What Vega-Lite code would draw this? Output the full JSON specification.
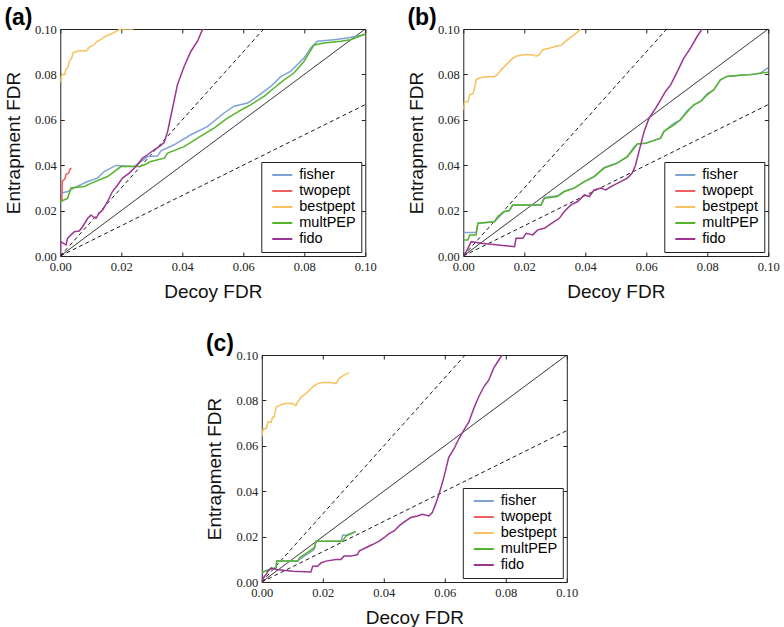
{
"$schema": "https://vega.github.io/schema/vega-lite/v6.json",
"background": "white",
"padding": {"left": 3, "top": 6, "right": 0, "bottom": 0},
"datasets": {
"ref": [
{"kind":"diag","x":0,"y":0},{"kind":"diag","x":0.1,"y":0.1},
{"kind":"hi","x":0,"y":0},{"kind":"hi","x":0.0667,"y":0.1},
{"kind":"lo","x":0,"y":0},{"kind":"lo","x":0.1,"y":0.0667}
],
"a": [
{"method":"fisher","x":0,"y":0.0276},{"method":"fisher","x":0.0025,"y":0.0284},{"method":"fisher","x":0.0046,"y":0.0301},{"method":"fisher","x":0.009,"y":0.0328},{"method":"fisher","x":0.0122,"y":0.0343},{"method":"fisher","x":0.0144,"y":0.0372},{"method":"fisher","x":0.0182,"y":0.0399},{"method":"fisher","x":0.0242,"y":0.0394},{"method":"fisher","x":0.0259,"y":0.041},{"method":"fisher","x":0.0286,"y":0.0438},{"method":"fisher","x":0.0319,"y":0.044},{"method":"fisher","x":0.033,"y":0.0463},{"method":"fisher","x":0.0373,"y":0.049},{"method":"fisher","x":0.0428,"y":0.0534},{"method":"fisher","x":0.0482,"y":0.057},{"method":"fisher","x":0.0537,"y":0.063},{"method":"fisher","x":0.057,"y":0.066},{"method":"fisher","x":0.0614,"y":0.0674},{"method":"fisher","x":0.0646,"y":0.0703},{"method":"fisher","x":0.069,"y":0.0747},{"method":"fisher","x":0.0723,"y":0.079},{"method":"fisher","x":0.0755,"y":0.0813},{"method":"fisher","x":0.0799,"y":0.0872},{"method":"fisher","x":0.0821,"y":0.0916},{"method":"fisher","x":0.0843,"y":0.0946},{"method":"fisher","x":0.0897,"y":0.0953},{"method":"fisher","x":0.0941,"y":0.096},{"method":"fisher","x":0.0996,"y":0.0975},
{"method":"twopept","x":0,"y":0.0245},{"method":"twopept","x":0.0005,"y":0.0245},{"method":"twopept","x":0.0007,"y":0.033},{"method":"twopept","x":0.0015,"y":0.034},{"method":"twopept","x":0.0019,"y":0.036},{"method":"twopept","x":0.0027,"y":0.0365},{"method":"twopept","x":0.0033,"y":0.0385},{"method":"twopept","x":0.0037,"y":0.0385},
{"method":"bestpept","x":0,"y":0.0765},{"method":"bestpept","x":0.0003,"y":0.079},{"method":"bestpept","x":0.0006,"y":0.08},{"method":"bestpept","x":0.0015,"y":0.08},{"method":"bestpept","x":0.0018,"y":0.082},{"method":"bestpept","x":0.0025,"y":0.083},{"method":"bestpept","x":0.003,"y":0.086},{"method":"bestpept","x":0.0037,"y":0.087},{"method":"bestpept","x":0.0042,"y":0.0895},{"method":"bestpept","x":0.005,"y":0.09},{"method":"bestpept","x":0.0065,"y":0.0905},{"method":"bestpept","x":0.0085,"y":0.0903},{"method":"bestpept","x":0.0095,"y":0.092},{"method":"bestpept","x":0.011,"y":0.093},{"method":"bestpept","x":0.012,"y":0.0945},{"method":"bestpept","x":0.0135,"y":0.0955},{"method":"bestpept","x":0.015,"y":0.097},{"method":"bestpept","x":0.017,"y":0.098},{"method":"bestpept","x":0.019,"y":0.0995},{"method":"bestpept","x":0.02,"y":0.1},{"method":"bestpept","x":0.024,"y":0.1},
{"method":"multPEP","x":0,"y":0.024},{"method":"multPEP","x":0.0024,"y":0.0254},{"method":"multPEP","x":0.0035,"y":0.03},{"method":"multPEP","x":0.0079,"y":0.0306},{"method":"multPEP","x":0.01,"y":0.032},{"method":"multPEP","x":0.0155,"y":0.035},{"method":"multPEP","x":0.0199,"y":0.0394},{"method":"multPEP","x":0.0259,"y":0.0394},{"method":"multPEP","x":0.0275,"y":0.0401},{"method":"multPEP","x":0.0297,"y":0.0416},{"method":"multPEP","x":0.0341,"y":0.0431},{"method":"multPEP","x":0.0352,"y":0.0453},{"method":"multPEP","x":0.0406,"y":0.0482},{"method":"multPEP","x":0.045,"y":0.0519},{"method":"multPEP","x":0.0504,"y":0.0563},{"method":"multPEP","x":0.0548,"y":0.0607},{"method":"multPEP","x":0.0603,"y":0.0651},{"method":"multPEP","x":0.0624,"y":0.0666},{"method":"multPEP","x":0.0668,"y":0.0703},{"method":"multPEP","x":0.0701,"y":0.074},{"method":"multPEP","x":0.0734,"y":0.0776},{"method":"multPEP","x":0.0766,"y":0.0806},{"method":"multPEP","x":0.0799,"y":0.0857},{"method":"multPEP","x":0.0832,"y":0.093},{"method":"multPEP","x":0.0865,"y":0.0938},{"method":"multPEP","x":0.0919,"y":0.0946},{"method":"multPEP","x":0.0952,"y":0.0953},{"method":"multPEP","x":0.1,"y":0.0978},
{"method":"fido","x":0,"y":0},{"method":"fido","x":0.0001,"y":0.0063},{"method":"fido","x":0.0019,"y":0.0049},{"method":"fido","x":0.0024,"y":0.0078},{"method":"fido","x":0.0035,"y":0.0093},{"method":"fido","x":0.0046,"y":0.0107},{"method":"fido","x":0.0062,"y":0.011},{"method":"fido","x":0.0073,"y":0.0129},{"method":"fido","x":0.009,"y":0.0166},{"method":"fido","x":0.01,"y":0.018},{"method":"fido","x":0.0117,"y":0.0166},{"method":"fido","x":0.0128,"y":0.019},{"method":"fido","x":0.0139,"y":0.0203},{"method":"fido","x":0.0155,"y":0.024},{"method":"fido","x":0.0171,"y":0.0284},{"method":"fido","x":0.0188,"y":0.0313},{"method":"fido","x":0.0204,"y":0.0343},{"method":"fido","x":0.0226,"y":0.0365},{"method":"fido","x":0.0248,"y":0.0394},{"method":"fido","x":0.027,"y":0.0431},{"method":"fido","x":0.0286,"y":0.0446},{"method":"fido","x":0.0308,"y":0.0468},{"method":"fido","x":0.033,"y":0.0487},{"method":"fido","x":0.0341,"y":0.0501},{"method":"fido","x":0.0352,"y":0.0549},{"method":"fido","x":0.0368,"y":0.0651},{"method":"fido","x":0.0384,"y":0.0754},{"method":"fido","x":0.0406,"y":0.0835},{"method":"fido","x":0.0428,"y":0.0901},{"method":"fido","x":0.045,"y":0.0946},{"method":"fido","x":0.0466,"y":0.0997},{"method":"fido","x":0.0472,"y":0.1}
],
"b": [
{"method":"fisher","x":0,"y":0.0104},{"method":"fisher","x":0.0042,"y":0.0104},{"method":"fisher","x":0.0048,"y":0.0144},{"method":"fisher","x":0.0102,"y":0.0151},{"method":"fisher","x":0.0113,"y":0.0166},{"method":"fisher","x":0.0135,"y":0.0196},{"method":"fisher","x":0.0151,"y":0.02},{"method":"fisher","x":0.0162,"y":0.0225},{"method":"fisher","x":0.0255,"y":0.0225},{"method":"fisher","x":0.0266,"y":0.0258},{"method":"fisher","x":0.0309,"y":0.0265},{"method":"fisher","x":0.0331,"y":0.0284},{"method":"fisher","x":0.0364,"y":0.03},{"method":"fisher","x":0.0397,"y":0.0328},{"method":"fisher","x":0.0429,"y":0.035},{"method":"fisher","x":0.0462,"y":0.039},{"method":"fisher","x":0.0505,"y":0.041},{"method":"fisher","x":0.0538,"y":0.0438},{"method":"fisher","x":0.056,"y":0.048},{"method":"fisher","x":0.0571,"y":0.0494},{"method":"fisher","x":0.0598,"y":0.0497},{"method":"fisher","x":0.0614,"y":0.0504},{"method":"fisher","x":0.0647,"y":0.0519},{"method":"fisher","x":0.0658,"y":0.0549},{"method":"fisher","x":0.0691,"y":0.0585},{"method":"fisher","x":0.0712,"y":0.06},{"method":"fisher","x":0.0734,"y":0.064},{"method":"fisher","x":0.0756,"y":0.0666},{"method":"fisher","x":0.0778,"y":0.0681},{"method":"fisher","x":0.08,"y":0.0715},{"method":"fisher","x":0.0821,"y":0.0732},{"method":"fisher","x":0.0843,"y":0.0776},{"method":"fisher","x":0.0865,"y":0.0791},{"method":"fisher","x":0.0908,"y":0.0796},{"method":"fisher","x":0.0941,"y":0.0799},{"method":"fisher","x":0.0974,"y":0.0805},{"method":"fisher","x":0.1,"y":0.083},
{"method":"bestpept","x":0,"y":0.0644},{"method":"bestpept","x":0.0004,"y":0.068},{"method":"bestpept","x":0.0015,"y":0.068},{"method":"bestpept","x":0.0021,"y":0.071},{"method":"bestpept","x":0.0032,"y":0.0715},{"method":"bestpept","x":0.0037,"y":0.074},{"method":"bestpept","x":0.0042,"y":0.0776},{"method":"bestpept","x":0.0053,"y":0.0784},{"method":"bestpept","x":0.007,"y":0.079},{"method":"bestpept","x":0.0102,"y":0.079},{"method":"bestpept","x":0.0113,"y":0.08},{"method":"bestpept","x":0.0124,"y":0.082},{"method":"bestpept","x":0.0141,"y":0.0843},{"method":"bestpept","x":0.0157,"y":0.0865},{"method":"bestpept","x":0.0173,"y":0.088},{"method":"bestpept","x":0.0195,"y":0.0887},{"method":"bestpept","x":0.0228,"y":0.0887},{"method":"bestpept","x":0.0239,"y":0.088},{"method":"bestpept","x":0.0249,"y":0.0887},{"method":"bestpept","x":0.026,"y":0.0909},{"method":"bestpept","x":0.0282,"y":0.0915},{"method":"bestpept","x":0.0304,"y":0.0924},{"method":"bestpept","x":0.032,"y":0.0928},{"method":"bestpept","x":0.0342,"y":0.0953},{"method":"bestpept","x":0.0364,"y":0.0975},{"method":"bestpept","x":0.0386,"y":0.1},
{"method":"multPEP","x":0,"y":0.0071},{"method":"multPEP","x":0.0015,"y":0.0071},{"method":"multPEP","x":0.0021,"y":0.0093},{"method":"multPEP","x":0.0042,"y":0.0093},{"method":"multPEP","x":0.0048,"y":0.0144},{"method":"multPEP","x":0.0102,"y":0.0151},{"method":"multPEP","x":0.0113,"y":0.0174},{"method":"multPEP","x":0.0135,"y":0.0196},{"method":"multPEP","x":0.0151,"y":0.02},{"method":"multPEP","x":0.0162,"y":0.0225},{"method":"multPEP","x":0.0255,"y":0.0225},{"method":"multPEP","x":0.0266,"y":0.0254},{"method":"multPEP","x":0.0309,"y":0.0262},{"method":"multPEP","x":0.0331,"y":0.0284},{"method":"multPEP","x":0.0364,"y":0.0299},{"method":"multPEP","x":0.0397,"y":0.0328},{"method":"multPEP","x":0.0429,"y":0.035},{"method":"multPEP","x":0.0462,"y":0.0387},{"method":"multPEP","x":0.0505,"y":0.0409},{"method":"multPEP","x":0.0538,"y":0.0438},{"method":"multPEP","x":0.056,"y":0.0475},{"method":"multPEP","x":0.0571,"y":0.0494},{"method":"multPEP","x":0.0598,"y":0.0497},{"method":"multPEP","x":0.0614,"y":0.0504},{"method":"multPEP","x":0.0647,"y":0.0519},{"method":"multPEP","x":0.0658,"y":0.0549},{"method":"multPEP","x":0.0691,"y":0.0578},{"method":"multPEP","x":0.0712,"y":0.06},{"method":"multPEP","x":0.0734,"y":0.0634},{"method":"multPEP","x":0.0756,"y":0.0666},{"method":"multPEP","x":0.0778,"y":0.0681},{"method":"multPEP","x":0.08,"y":0.071},{"method":"multPEP","x":0.0821,"y":0.0732},{"method":"multPEP","x":0.0843,"y":0.0776},{"method":"multPEP","x":0.0865,"y":0.0791},{"method":"multPEP","x":0.0908,"y":0.0796},{"method":"multPEP","x":0.0941,"y":0.0799},{"method":"multPEP","x":0.0974,"y":0.0805},{"method":"multPEP","x":0.1,"y":0.081},
{"method":"fido","x":0,"y":0},{"method":"fido","x":0.001,"y":0.0019},{"method":"fido","x":0.0026,"y":0.0063},{"method":"fido","x":0.0059,"y":0.0056},{"method":"fido","x":0.0168,"y":0.0041},{"method":"fido","x":0.0173,"y":0.0078},{"method":"fido","x":0.0195,"y":0.0078},{"method":"fido","x":0.0206,"y":0.01},{"method":"fido","x":0.0228,"y":0.0093},{"method":"fido","x":0.0244,"y":0.0115},{"method":"fido","x":0.0266,"y":0.0122},{"method":"fido","x":0.0282,"y":0.0137},{"method":"fido","x":0.0298,"y":0.0151},{"method":"fido","x":0.0315,"y":0.0166},{"method":"fido","x":0.0331,"y":0.0196},{"method":"fido","x":0.0353,"y":0.0225},{"method":"fido","x":0.0375,"y":0.024},{"method":"fido","x":0.0397,"y":0.0269},{"method":"fido","x":0.0413,"y":0.0262},{"method":"fido","x":0.0429,"y":0.0291},{"method":"fido","x":0.0451,"y":0.0299},{"method":"fido","x":0.0467,"y":0.0291},{"method":"fido","x":0.0484,"y":0.0306},{"method":"fido","x":0.0516,"y":0.0328},{"method":"fido","x":0.0538,"y":0.0343},{"method":"fido","x":0.0554,"y":0.0365},{"method":"fido","x":0.0565,"y":0.0401},{"method":"fido","x":0.0576,"y":0.046},{"method":"fido","x":0.0593,"y":0.0549},{"method":"fido","x":0.0609,"y":0.0607},{"method":"fido","x":0.0631,"y":0.0651},{"method":"fido","x":0.0647,"y":0.0688},{"method":"fido","x":0.0663,"y":0.0725},{"method":"fido","x":0.068,"y":0.0754},{"method":"fido","x":0.0702,"y":0.0813},{"method":"fido","x":0.0723,"y":0.0872},{"method":"fido","x":0.0745,"y":0.0916},{"method":"fido","x":0.0767,"y":0.0968},{"method":"fido","x":0.0783,"y":0.1}
],
"c": [
{"method":"fisher","x":0,"y":0.004},{"method":"fisher","x":0.0009,"y":0.0047},{"method":"fisher","x":0.0025,"y":0.0055},{"method":"fisher","x":0.0047,"y":0.0062},{"method":"fisher","x":0.0049,"y":0.0092},{"method":"fisher","x":0.0118,"y":0.0092},{"method":"fisher","x":0.0123,"y":0.0099},{"method":"fisher","x":0.0139,"y":0.0114},{"method":"fisher","x":0.0156,"y":0.0128},{"method":"fisher","x":0.0172,"y":0.0144},{"method":"fisher","x":0.0178,"y":0.018},{"method":"fisher","x":0.026,"y":0.018},{"method":"fisher","x":0.0265,"y":0.0206},{"method":"fisher","x":0.0276,"y":0.0206},{"method":"fisher","x":0.0308,"y":0.0222},
{"method":"bestpept","x":0,"y":0.0641},{"method":"bestpept","x":0.0005,"y":0.0675},{"method":"bestpept","x":0.0014,"y":0.0675},{"method":"bestpept","x":0.002,"y":0.0705},{"method":"bestpept","x":0.0031,"y":0.0705},{"method":"bestpept","x":0.0036,"y":0.0727},{"method":"bestpept","x":0.0041,"y":0.0727},{"method":"bestpept","x":0.0047,"y":0.0771},{"method":"bestpept","x":0.0058,"y":0.0778},{"method":"bestpept","x":0.0074,"y":0.0786},{"method":"bestpept","x":0.0101,"y":0.0786},{"method":"bestpept","x":0.0112,"y":0.0778},{"method":"bestpept","x":0.0118,"y":0.0793},{"method":"bestpept","x":0.0129,"y":0.0815},{"method":"bestpept","x":0.0145,"y":0.083},{"method":"bestpept","x":0.0156,"y":0.0845},{"method":"bestpept","x":0.0167,"y":0.086},{"method":"bestpept","x":0.0183,"y":0.0874},{"method":"bestpept","x":0.0199,"y":0.0879},{"method":"bestpept","x":0.0227,"y":0.0879},{"method":"bestpept","x":0.0243,"y":0.0874},{"method":"bestpept","x":0.0254,"y":0.0897},{"method":"bestpept","x":0.027,"y":0.0911},{"method":"bestpept","x":0.0286,"y":0.0922},
{"method":"multPEP","x":0,"y":0.004},{"method":"multPEP","x":0.0009,"y":0.0047},{"method":"multPEP","x":0.0025,"y":0.0055},{"method":"multPEP","x":0.0047,"y":0.0062},{"method":"multPEP","x":0.0049,"y":0.0092},{"method":"multPEP","x":0.0118,"y":0.0092},{"method":"multPEP","x":0.0123,"y":0.0106},{"method":"multPEP","x":0.0139,"y":0.0121},{"method":"multPEP","x":0.0156,"y":0.0136},{"method":"multPEP","x":0.0172,"y":0.0151},{"method":"multPEP","x":0.0178,"y":0.018},{"method":"multPEP","x":0.0265,"y":0.018},{"method":"multPEP","x":0.0276,"y":0.0202},{"method":"multPEP","x":0.0308,"y":0.0222},
{"method":"fido","x":0,"y":0},{"method":"fido","x":0.0005,"y":0.0018},{"method":"fido","x":0.0014,"y":0.0033},{"method":"fido","x":0.002,"y":0.0047},{"method":"fido","x":0.0031,"y":0.0062},{"method":"fido","x":0.0047,"y":0.0055},{"method":"fido","x":0.0101,"y":0.0047},{"method":"fido","x":0.0161,"y":0.0044},{"method":"fido","x":0.0167,"y":0.0069},{"method":"fido","x":0.0183,"y":0.0069},{"method":"fido","x":0.0194,"y":0.0084},{"method":"fido","x":0.021,"y":0.0092},{"method":"fido","x":0.0243,"y":0.0099},{"method":"fido","x":0.0259,"y":0.0099},{"method":"fido","x":0.027,"y":0.0114},{"method":"fido","x":0.0292,"y":0.0114},{"method":"fido","x":0.0314,"y":0.0121},{"method":"fido","x":0.0319,"y":0.0136},{"method":"fido","x":0.0341,"y":0.0151},{"method":"fido","x":0.0363,"y":0.0165},{"method":"fido","x":0.0385,"y":0.018},{"method":"fido","x":0.0401,"y":0.0195},{"method":"fido","x":0.0417,"y":0.0213},{"method":"fido","x":0.0434,"y":0.0225},{"method":"fido","x":0.045,"y":0.0247},{"method":"fido","x":0.0472,"y":0.0269},{"method":"fido","x":0.0488,"y":0.0284},{"method":"fido","x":0.051,"y":0.0291},{"method":"fido","x":0.0526,"y":0.0298},{"method":"fido","x":0.0548,"y":0.0291},{"method":"fido","x":0.0559,"y":0.0306},{"method":"fido","x":0.057,"y":0.0343},{"method":"fido","x":0.0581,"y":0.0387},{"method":"fido","x":0.0597,"y":0.0461},{"method":"fido","x":0.0613,"y":0.0549},{"method":"fido","x":0.063,"y":0.0586},{"method":"fido","x":0.0646,"y":0.0631},{"method":"fido","x":0.0662,"y":0.0668},{"method":"fido","x":0.0679,"y":0.0705},{"method":"fido","x":0.0695,"y":0.0764},{"method":"fido","x":0.0711,"y":0.0815},{"method":"fido","x":0.0728,"y":0.086},{"method":"fido","x":0.0744,"y":0.0889},{"method":"fido","x":0.076,"y":0.0941},{"method":"fido","x":0.0777,"y":0.0978},{"method":"fido","x":0.0788,"y":0.1}
]
},
"vconcat": [
{"hconcat": [
{"title": {"text": "(a)"}, "width": 305, "height": 227,
 "resolve": {"axis": {"x": "independent", "y": "independent"}},
 "layer": [
  {"data": {"name": "ref"}, "mark": {"type": "line", "color": "black", "strokeWidth": 0.9, "clip": true},
   "encoding": {
    "x": {"field": "x", "type": "quantitative", "scale": {"domain": [0, 0.1], "nice": false, "zero": false}, "axis": {"orient": "top", "title": null, "labels": false, "values": [0, 0.02, 0.04, 0.06, 0.08, 0.1]}},
    "y": {"field": "y", "type": "quantitative", "scale": {"domain": [0, 0.1], "nice": false, "zero": false}, "axis": {"orient": "right", "title": null, "labels": false, "values": [0, 0.02, 0.04, 0.06, 0.08, 0.1]}},
    "detail": {"field": "kind"},
    "strokeDash": {"field": "kind", "type": "nominal", "scale": {"domain": ["diag", "hi", "lo"], "range": [[1, 0], [4, 3], [4, 3]]}, "legend": null}}},
  {"data": {"name": "a"}, "mark": {"type": "line", "strokeWidth": 1.5, "clip": true},
   "encoding": {
    "x": {"field": "x", "type": "quantitative", "axis": {"orient": "bottom", "title": "Decoy FDR", "values": [0, 0.02, 0.04, 0.06, 0.08, 0.1], "format": ".2f"}},
    "y": {"field": "y", "type": "quantitative", "axis": {"orient": "left", "title": "Entrapment FDR", "values": [0, 0.02, 0.04, 0.06, 0.08, 0.1], "format": ".2f"}},
    "color": {"field": "method", "type": "nominal", "scale": {"domain": ["fisher", "twopept", "bestpept", "multPEP", "fido"], "range": ["#7fa2d4", "#ef5f61", "#f7c25e", "#55b52a", "#9c3592"]}, "legend": {"title": null}}}}
 ]},
{"title": {"text": "(b)"}, "width": 305, "height": 227,
 "resolve": {"axis": {"x": "independent", "y": "independent"}},
 "layer": [
  {"data": {"name": "ref"}, "mark": {"type": "line", "color": "black", "strokeWidth": 0.9, "clip": true},
   "encoding": {
    "x": {"field": "x", "type": "quantitative", "scale": {"domain": [0, 0.1], "nice": false, "zero": false}, "axis": {"orient": "top", "title": null, "labels": false, "values": [0, 0.02, 0.04, 0.06, 0.08, 0.1]}},
    "y": {"field": "y", "type": "quantitative", "scale": {"domain": [0, 0.1], "nice": false, "zero": false}, "axis": {"orient": "right", "title": null, "labels": false, "values": [0, 0.02, 0.04, 0.06, 0.08, 0.1]}},
    "detail": {"field": "kind"},
    "strokeDash": {"field": "kind", "type": "nominal", "scale": {"domain": ["diag", "hi", "lo"], "range": [[1, 0], [4, 3], [4, 3]]}, "legend": null}}},
  {"data": {"name": "b"}, "mark": {"type": "line", "strokeWidth": 1.5, "clip": true},
   "encoding": {
    "x": {"field": "x", "type": "quantitative", "axis": {"orient": "bottom", "title": "Decoy FDR", "values": [0, 0.02, 0.04, 0.06, 0.08, 0.1], "format": ".2f"}},
    "y": {"field": "y", "type": "quantitative", "axis": {"orient": "left", "title": "Entrapment FDR", "values": [0, 0.02, 0.04, 0.06, 0.08, 0.1], "format": ".2f"}},
    "color": {"field": "method", "type": "nominal", "scale": {"domain": ["fisher", "twopept", "bestpept", "multPEP", "fido"], "range": ["#7fa2d4", "#ef5f61", "#f7c25e", "#55b52a", "#9c3592"]}, "legend": {"title": null}}}}
 ]}
],
"spacing": 29,
"resolve": {"scale": {"color": "independent"}, "legend": {"color": "independent"}}},
{"title": {"text": "(c)"}, "width": 305, "height": 227,
 "resolve": {"axis": {"x": "independent", "y": "independent"}},
 "layer": [
  {"data": {"name": "ref"}, "mark": {"type": "line", "color": "black", "strokeWidth": 0.9, "clip": true},
   "encoding": {
    "x": {"field": "x", "type": "quantitative", "scale": {"domain": [0, 0.1], "nice": false, "zero": false}, "axis": {"orient": "top", "title": null, "labels": false, "values": [0, 0.02, 0.04, 0.06, 0.08, 0.1]}},
    "y": {"field": "y", "type": "quantitative", "scale": {"domain": [0, 0.1], "nice": false, "zero": false}, "axis": {"orient": "right", "title": null, "labels": false, "values": [0, 0.02, 0.04, 0.06, 0.08, 0.1]}},
    "detail": {"field": "kind"},
    "strokeDash": {"field": "kind", "type": "nominal", "scale": {"domain": ["diag", "hi", "lo"], "range": [[1, 0], [4, 3], [4, 3]]}, "legend": null}}},
  {"data": {"name": "c"}, "mark": {"type": "line", "strokeWidth": 1.5, "clip": true},
   "encoding": {
    "x": {"field": "x", "type": "quantitative", "axis": {"orient": "bottom", "title": "Decoy FDR", "values": [0, 0.02, 0.04, 0.06, 0.08, 0.1], "format": ".2f"}},
    "y": {"field": "y", "type": "quantitative", "axis": {"orient": "left", "title": "Entrapment FDR", "values": [0, 0.02, 0.04, 0.06, 0.08, 0.1], "format": ".2f"}},
    "color": {"field": "method", "type": "nominal", "scale": {"domain": ["fisher", "twopept", "bestpept", "multPEP", "fido"], "range": ["#7fa2d4", "#ef5f61", "#f7c25e", "#55b52a", "#9c3592"]}, "legend": {"title": null}}}}
 ]}
],
"spacing": 30,
"center": true,
"resolve": {"scale": {"color": "independent"}, "legend": {"color": "independent"}},
"config": {
 "view": {"stroke": "#222", "strokeWidth": 1},
 "axis": {"grid": false, "domain": false, "tickSize": -4, "tickColor": "#222", "tickWidth": 1, "labelFlush": false,
   "labelFont": "Liberation Serif, Times New Roman, serif", "labelFontSize": 12.5, "labelColor": "#222", "labelPadding": 8,
   "titleFont": "Liberation Sans, Arial, sans-serif", "titleFontSize": 19, "titleFontWeight": "normal", "titleColor": "#111"},
 "axisX": {"titlePadding": 10},
 "axisY": {"titlePadding": 11},
 "title": {"font": "Liberation Sans, Arial, sans-serif", "fontSize": 23, "fontWeight": "bold", "anchor": "start", "frame": "bounds", "color": "black", "offset": -7},
 "legend": {"orient": "bottom-right", "offset": 4, "strokeColor": "#222", "fillColor": "white", "padding": 5, "cornerRadius": 0,
   "labelFont": "Liberation Sans, Arial, sans-serif", "labelFontSize": 14.5, "labelColor": "black", "symbolType": "stroke", "symbolSize": 400, "symbolStrokeWidth": 2, "symbolOffset": 5, "labelOffset": 6, "rowPadding": 0, "clipHeight": 16}
}
}
